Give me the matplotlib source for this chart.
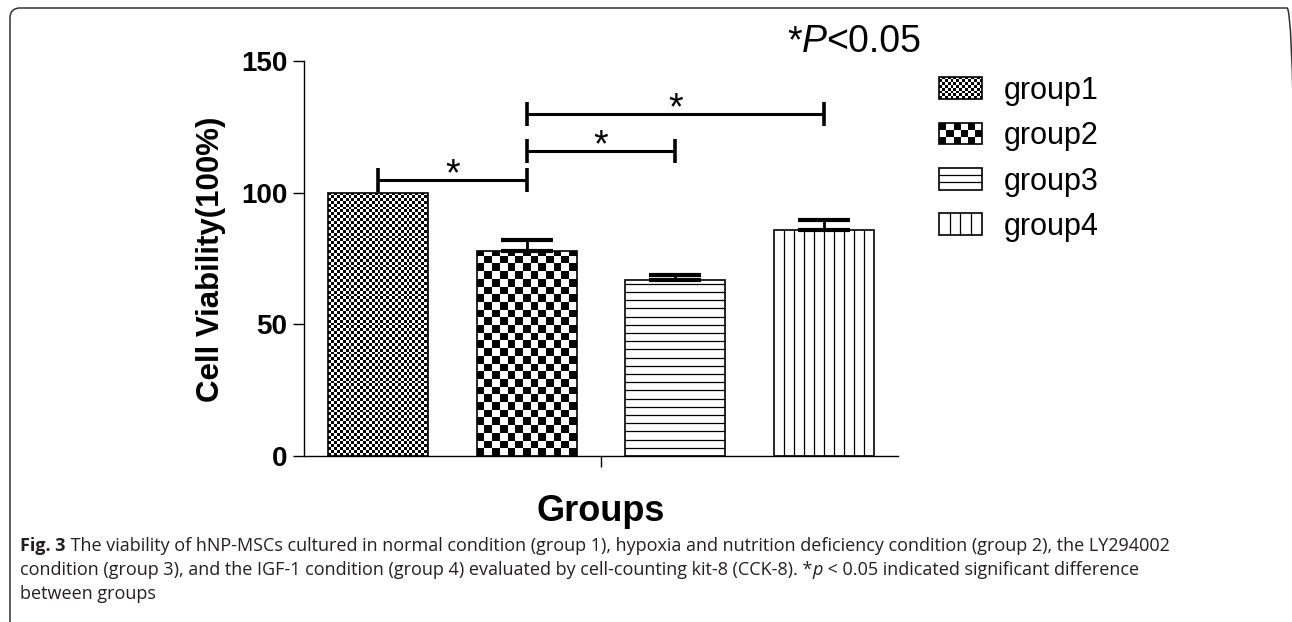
import numpy as np
import matplotlib
matplotlib.use("Agg")
import matplotlib.pyplot as plt
from matplotlib.patches import Rectangle, FancyBboxPatch
from matplotlib.collections import PolyCollection, LineCollection
from matplotlib.legend_handler import HandlerBase
from matplotlib.transforms import IdentityTransform

# data
groups = ["group1", "group2", "group3", "group4"]
viability = [100, 78, 67, 86]
sem = [0, 4.0, 1.6, 3.6]
pairs = [(0, 1), (1, 2), (1, 3)]          # significant comparisons
pair_heights = [105, 116, 130]
yticks = [0, 50, 100, 150]

# fill pattern per group: kind, cell size on bar (px), cell size in legend key (px)
fills = [("checker", 2.9, 2.9), ("checker", 7.7, 7.3),
         ("hlines", 8.2, 7.3), ("vlines", 10.0, 10.75)]

W, H, DPI = 1292, 622, 100
chart_font = "Liberation Sans"
caption_font = "Open Sans"
plt.rcParams["font.family"] = [chart_font, "DejaVu Sans"]


def texture(kind, x0, y0, w, h, cx, cy, trans):
    if kind == "checker":
        verts = []
        nx = int(np.ceil(w / cx - 1e-6))
        ny = int(np.ceil(h / cy - 1e-6))
        for i in range(nx):
            for j in range(ny):
                if (i + j) % 2 == 0:
                    xa, ya = x0 + i * cx, y0 + j * cy
                    xb, yb = min(xa + cx, x0 + w), min(ya + cy, y0 + h)
                    verts.append([(xa, ya), (xb, ya), (xb, yb), (xa, yb)])
        return PolyCollection(verts, facecolors="black", edgecolors="none",
                              transform=trans)
    if kind == "hlines":
        ys = np.arange(y0 + cy, y0 + h - cy * 0.3, cy)
        segs = [[(x0, y), (x0 + w, y)] for y in ys]
    else:
        xs = np.arange(x0 + cx, x0 + w - cx * 0.3, cx)
        segs = [[(xx, y0), (xx, y0 + h)] for xx in xs]
    return LineCollection(segs, colors="black", linewidths=0.9, transform=trans)


class TextureKey(HandlerBase):
    def __init__(self, kind, cell):
        super().__init__()
        self.kind, self.cell = kind, cell

    def create_artists(self, legend, orig_handle, xdescent, ydescent,
                       width, height, fontsize, trans):
        c = self.cell * 72 / DPI
        fill = texture(self.kind, -xdescent, -ydescent, width, height, c, c, trans)
        box = Rectangle((-xdescent, -ydescent), width, height, facecolor="none",
                        edgecolor="black", linewidth=1.2, transform=trans)
        return [fill, box]


fig = plt.figure(figsize=(W / DPI, H / DPI), dpi=DPI)
ax = fig.add_axes([304 / W, 1 - 456 / H, 594 / W, 395 / H])
x = np.arange(len(groups))
ax.set_xlim(-0.5, len(groups) - 0.5)
ax.set_ylim(yticks[0], yticks[-1])

bars = ax.bar(x, viability, width=0.673, facecolor="none", edgecolor="black",
              linewidth=1.2, zorder=3)
sx, sy = ax.transData.transform((1, 1)) - ax.transData.transform((0, 0))
for bar, (kind, cell, _) in zip(bars, fills):
    ax.add_collection(texture(kind, bar.get_x(), 0, bar.get_width(), bar.get_height(),
                              cell / sx, cell / sy, ax.transData), autolim=False)

# error bars (upper only)
idx = [i for i, e in enumerate(sem) if e > 0]
ax.errorbar(x[idx], np.array(viability)[idx],
            yerr=[np.zeros(len(idx)), np.array(sem)[idx]],
            fmt="none", ecolor="black", elinewidth=2, capsize=18.5, capthick=3,
            zorder=4)

# significance brackets
for (a, b), yv in zip(pairs, pair_heights):
    ax.errorbar((a + b) / 2, yv, xerr=(b - a) / 2, fmt="none", ecolor="black",
                elinewidth=2.2, capsize=8.3, capthick=2.6, zorder=4)
    ax.annotate("*", xy=((a + b) / 2, yv), xytext=(0, -4), textcoords="offset points",
                ha="center", va="baseline", fontsize=27)

for s in ("top", "right"):
    ax.spines[s].set_visible(False)
for s in ("left", "bottom"):
    ax.spines[s].set_linewidth(1.0)
ax.set_yticks(yticks)
ax.set_xticks([(len(groups) - 1) / 2])
ax.set_xticklabels([""])
ax.tick_params(axis="both", direction="out", length=8, width=1.0)
ax.tick_params(axis="y", labelsize=20, pad=4)
for t in ax.get_yticklabels():
    t.set_fontweight("bold")

fig.text(211 / W, 1 - 259 / H, "Cell Viability(100%)", rotation=90, ha="center",
         va="center", fontsize=22.5, fontweight="bold")
fig.text(601 / W, 1 - 521 / H, "Groups", ha="center", va="baseline",
         fontsize=26, fontweight="bold")

leg = ax.legend(bars, groups,
                handler_map={b: TextureKey(k, lc) for b, (k, _, lc) in zip(bars, fills)},
                loc="upper left", bbox_to_anchor=(939 / W, 1 - 76 / H),
                bbox_transform=fig.transFigure, frameon=False, fontsize=22,
                handlelength=1.41, handleheight=0.72, handletextpad=0.72,
                labelspacing=0.5, borderpad=0, borderaxespad=0)


def rich_line(xp, yp, pieces, **kw):
    prev = fig.text(xp / W, 1 - yp / H, pieces[0][0], va="baseline", **pieces[0][1], **kw)
    for s, style in pieces[1:]:
        prev = ax.annotate(s, xy=(1, 0), xycoords=prev, va="bottom",
                           annotation_clip=False, **style, **kw)
    return prev


rich_line(787, 52, [("*", {}), ("P", {"style": "italic"}), ("<0.05", {})],
          fontsize=27, color="black")

cap_kw = dict(fontsize=13.0, family=[caption_font, "DejaVu Sans"], color="#231f20")
rich_line(20, 551, [("Fig. 3", {"fontweight": "bold"}),
                    (" The viability of hNP-MSCs cultured in normal condition (group 1), "
                     "hypoxia and nutrition deficiency condition (group 2), the LY294002", {})],
          **cap_kw)
rich_line(20, 575, [("condition (group 3), and the IGF-1 condition (group 4) evaluated by "
                     "cell-counting kit-8 (CCK-8). *", {}),
                    ("p", {"style": "italic"}),
                    (" < 0.05 indicated significant difference", {})], **cap_kw)
rich_line(20, 599, [("between groups", {})], **cap_kw)

# panel frame (only top/left edges visible)
frame = FancyBboxPatch((10, -30), 1287, H - 8 + 30,
                       boxstyle="round,pad=0,rounding_size=10",
                       transform=IdentityTransform(), facecolor="none",
                       edgecolor="#333333", linewidth=1.1)
fig.add_artist(frame)

fig.savefig("out.png", dpi=DPI)
